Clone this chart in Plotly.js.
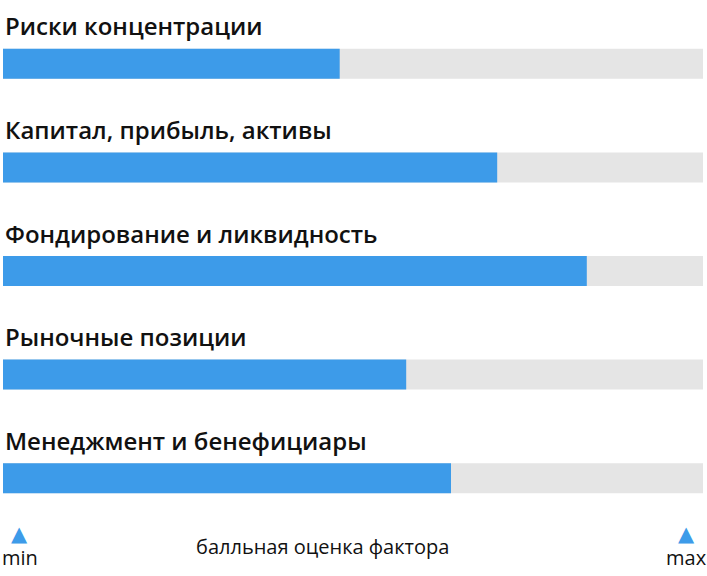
<!DOCTYPE html>
<html>
<head>
<meta charset="utf-8">
<script src="https://cdn.plot.ly/plotly-3.0.1.min.js"></script>
<style>html,body{margin:0;padding:0;background:#fff;}#chart{width:707px;height:576px;}</style>
</head>
<body>
<div id="chart"></div>
<script>
const factors = ["Риски концентрации", "Капитал, прибыль, активы", "Фондирование и ликвидность", "Рыночные позиции", "Менеджмент и бенефициары"];
const scores = [48.1, 70.6, 83.4, 57.6, 64.0];
const maxScore = 100;
const axisLabels = ["min", "балльная оценка фактора", "max"];

const blue = "#3d9be9";
const gray = "#e5e5e5";
const titleFont = {family: "'Open Sans', sans-serif", size: 24, color: "#111", weight: 600};
const smallFont = {family: "'Open Sans', sans-serif", size: 20, color: "#111"};
const triFont = {family: "DejaVu Sans", size: 21, color: blue};

const traces = [
  {type: "bar", orientation: "h", y: factors, x: factors.map(() => maxScore),
   marker: {color: gray, line: {width: 0}}, width: 0.29, hoverinfo: "skip"},
  {type: "bar", orientation: "h", y: factors, x: scores,
   marker: {color: blue, line: {width: 0}}, width: 0.29, hoverinfo: "skip"}
];

const annotations = factors.map(f => ({
  xref: "paper", yref: "y", x: 0, y: f, text: f, showarrow: false,
  xanchor: "left", yanchor: "middle", yshift: 38, font: titleFont
}));
annotations.push(
  {xref: "paper", yref: "paper", x: 0.024, y: -0.008, text: "▲", showarrow: false, xanchor: "center", yanchor: "middle", font: triFont},
  {xref: "paper", yref: "paper", x: 0.976, y: -0.008, text: "▲", showarrow: false, xanchor: "center", yanchor: "middle", font: triFont},
  {xref: "paper", yref: "paper", x: 0.024, y: -0.053, text: axisLabels[0], showarrow: false, xanchor: "center", yanchor: "middle", font: smallFont},
  {xref: "paper", yref: "paper", x: 0.976, y: -0.053, text: axisLabels[2], showarrow: false, xanchor: "center", yanchor: "middle", font: smallFont},
  {xref: "paper", yref: "paper", x: 0.456, y: -0.031, text: axisLabels[1], showarrow: false, xanchor: "center", yanchor: "middle", font: smallFont}
);

const layout = {
  width: 707, height: 576,
  margin: {l: 3, r: 4, t: 12, b: 46},
  barmode: "overlay",
  showlegend: false,
  paper_bgcolor: "#fff", plot_bgcolor: "#fff",
  xaxis: {range: [0, maxScore], visible: false, fixedrange: true},
  yaxis: {type: "category", range: [4.5, -0.5], visible: false, fixedrange: true},
  annotations: annotations
};

Plotly.newPlot("chart", traces, layout, {displayModeBar: false, staticPlot: true});
</script>
</body>
</html>
